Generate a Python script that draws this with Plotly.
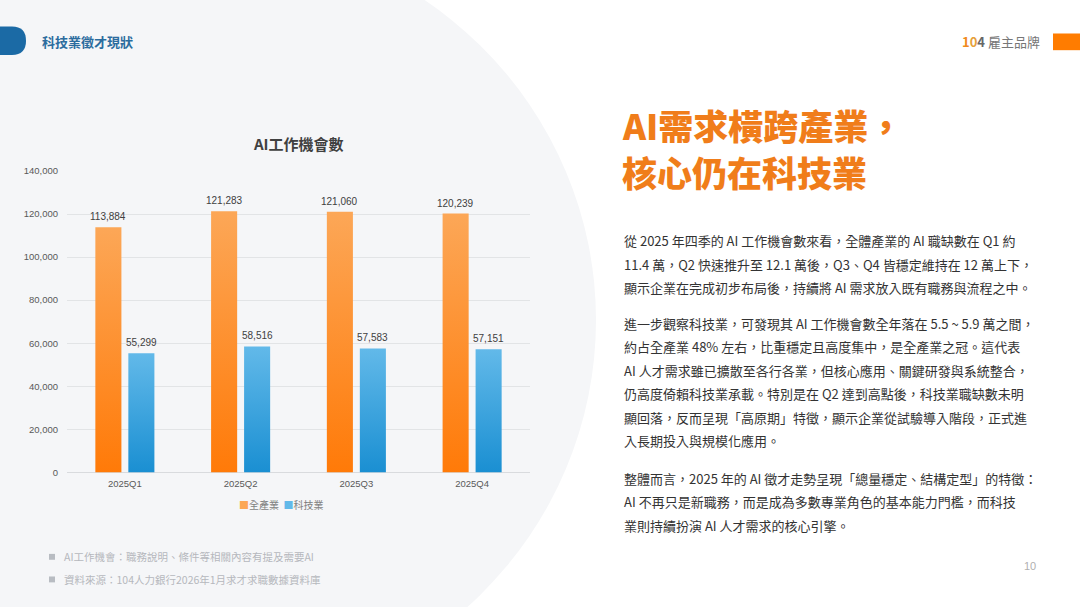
import plotly.graph_objects as go

# data
quarters = ["2025Q1", "2025Q2", "2025Q3", "2025Q4"]
all_industry = [113884, 121283, 121060, 120239]
tech_industry = [55299, 58516, 57583, 57151]
series_names = ["全產業", "科技業"]
y_ticks = [0, 20000, 40000, 60000, 80000, 100000, 120000, 140000]

headline = ["AI需求橫跨產業，", "核心仍在科技業"]
paragraphs = [
    ["從 2025 年四季的 AI 工作機會數來看，全體產業的 AI 職缺數在 Q1 約",
     "11.4 萬，Q2 快速推升至 12.1 萬後，Q3、Q4 皆穩定維持在 12 萬上下，",
     "顯示企業在完成初步布局後，持續將 AI 需求放入既有職務與流程之中。"],
    ["進一步觀察科技業，可發現其 AI 工作機會數全年落在 5.5 ~ 5.9 萬之間，",
     "約占全產業 48% 左右，比重穩定且高度集中，是全產業之冠。這代表",
     "AI 人才需求雖已擴散至各行各業，但核心應用、關鍵研發與系統整合，",
     "仍高度倚賴科技業承載。特別是在 Q2 達到高點後，科技業職缺數未明",
     "顯回落，反而呈現「高原期」特徵，顯示企業從試驗導入階段，正式進",
     "入長期投入與規模化應用。"],
    ["整體而言，2025 年的 AI 徵才走勢呈現「總量穩定、結構定型」的特徵：",
     "AI 不再只是新職務，而是成為多數專業角色的基本能力門檻，而科技",
     "業則持續扮演 AI 人才需求的核心引擎。"],
]
footnotes = ["AI工作機會：職務說明、條件等相關內容有提及需要AI",
             "資料來源：104人力銀行2026年1月求才求職數據資料庫"]

W, H = 1080, 607
CJK = "Noto Sans CJK TC, Noto Sans, sans-serif"
NUM = "Liberation Sans, Arial, sans-serif"

ORANGE = ("#ff7a08", "#fca757")
BLUE = ("#1a8fd2", "#62b9e9")

def px(x):
    return x / W

def py_(y):
    return 1 - y / H

fig = go.Figure()
ann = []

# bars drawn as filled polygons so they can carry a vertical gradient
bargap, groupgap = 0.43, 0.21
slot = (1 - bargap) / 2
barw = slot * (1 - groupgap)
for k, (vals, cols, name) in enumerate([(all_industry, ORANGE, series_names[0]),
                                        (tech_industry, BLUE, series_names[1])]):
    for i, v in enumerate(vals):
        c = i - (1 - bargap) / 2 + slot * (k + 0.5)
        x0, x1 = c - barw / 2, c + barw / 2
        fig.add_trace(go.Scatter(
            x=[x0, x0, x1, x1, x0], y=[0, v, v, 0, 0],
            mode="lines", fill="toself", line=dict(width=0),
            fillgradient=dict(type="vertical",
                              colorscale=[[0, cols[0]], [1, cols[1]]]),
            name=name, showlegend=False,
            hovertemplate=f"{name} {quarters[i]}: {v:,}<extra></extra>"))
        ann.append(dict(text=f"{v:,}", x=c, y=v, xref="x", yref="y",
                        xanchor="center", yanchor="bottom", yshift=3,
                        showarrow=False,
                        font=dict(family=NUM, size=10, color="#404040")))

shapes = [
    # grey rounded panel behind the chart
    dict(type="circle", xref="paper", yref="paper", layer="below",
         x0=px(200 - 396), x1=px(200 + 396), y0=py_(320 + 396), y1=py_(320 - 396),
         fillcolor="#f5f6f8", line=dict(width=0)),
    # header pill
    dict(type="path", xref="paper", yref="paper", layer="below",
         path=f"M {px(-5)},{py_(21)} L {px(12)},{py_(21)} "
              f"Q {px(26)},{py_(21)} {px(26)},{py_(35.5)} "
              f"Q {px(26)},{py_(50)} {px(12)},{py_(50)} L {px(-5)},{py_(50)} Z",
         fillcolor="#1b6aa5", line=dict(width=0)),
    # orange block top right
    dict(type="rect", xref="paper", yref="paper",
         x0=px(1053), x1=px(1081), y0=py_(45), y1=py_(28),
         fillcolor="#ff7c00", line=dict(width=0)),
]
for j in range(len(footnotes)):
    yy = 561 + 23 * j
    shapes.append(dict(type="rect", xref="paper", yref="paper",
                       x0=px(49), x1=px(55), y0=py_(yy + 3), y1=py_(yy - 3),
                       fillcolor="#b8bcc2", line=dict(width=0)))

txt = []
txt.append(dict(text="<b>科技業徵才現狀</b>", x=px(40), y=py_(36), xanchor="left",
                font=dict(family=CJK, size=13, color="#2b6c9e")))
txt.append(dict(text="<b><span style='color:#f08a1c'>1</span>"
                     "<span style='color:#e6a03a'>0</span>"
                     "<span style='color:#666'>4</span></b>"
                     " <span style='color:#777'>雇主品牌</span>",
                x=px(1042), y=py_(36), xanchor="right",
                font=dict(family=CJK, size=13)))
txt.append(dict(text="<b>AI工作機會數</b>", x=px(298), y=py_(140), xanchor="center",
                font=dict(family=CJK, size=15, color="#404040")))
# legend
txt.append(dict(text=f"<span style='color:{ORANGE[1]}'>■</span>{series_names[0]}&nbsp;&nbsp;"
                     f"<span style='color:{BLUE[1]}'>■</span>{series_names[1]}",
                x=px(281), y=py_(508), xanchor="center",
                font=dict(family=CJK, size=10, color="#7f7f7f")))
for j, line in enumerate(headline):
    txt.append(dict(text=line, x=px(620), y=py_(121 + 48 * j),
                    xanchor="left",
                    font=dict(family=CJK, size=35, color="#f07d1a", weight=900)))
starts = [239, 323, 481]
for p, y0 in zip(paragraphs, starts):
    for j, line in enumerate(p):
        txt.append(dict(text=line, x=px(622), y=py_(y0 + 24 * j), xanchor="left",
                        font=dict(family=CJK, size=13, color="#333333")))
for j, line in enumerate(footnotes):
    txt.append(dict(text=line, x=px(62), y=py_(561 + 23 * j), xanchor="left",
                    font=dict(family=CJK, size=10.5, color="#b5b8bd")))
txt.append(dict(text="10", x=px(1030), y=py_(570), xanchor="center",
                font=dict(family=NUM, size=11, color="#b0b0b0")))
for a in txt:
    a.update(xref="paper", yref="paper", showarrow=False, yanchor="middle")
ann += txt

fig.update_layout(
    width=W, height=H, margin=dict(l=0, r=0, t=0, b=0),
    paper_bgcolor="white", plot_bgcolor="rgba(0,0,0,0)",
    shapes=shapes, annotations=ann, showlegend=False,
    xaxis=dict(domain=[px(67), px(530)], range=[-0.5, 3.5],
               tickvals=list(range(len(quarters))), ticktext=quarters,
               showgrid=False, zeroline=False, showline=False, ticks="",
               ticklabelstandoff=4,
               tickfont=dict(family=NUM, size=9.5, color="#595959"), fixedrange=True),
    yaxis=dict(domain=[py_(475), py_(168)], range=[0, 140000],
               tickvals=y_ticks, tickformat=",", showgrid=True,
               gridcolor="#e2e4e6", gridwidth=1, zeroline=True,
               zerolinecolor="#d9dbde", zerolinewidth=1, showline=False,
               ticks="", ticklabelstandoff=8,
               tickfont=dict(family=NUM, size=9.5, color="#595959"), fixedrange=True),
)

fig.write_html("out.html", config={"displayModeBar": False},
               post_script="document.body.style.margin='0';")
